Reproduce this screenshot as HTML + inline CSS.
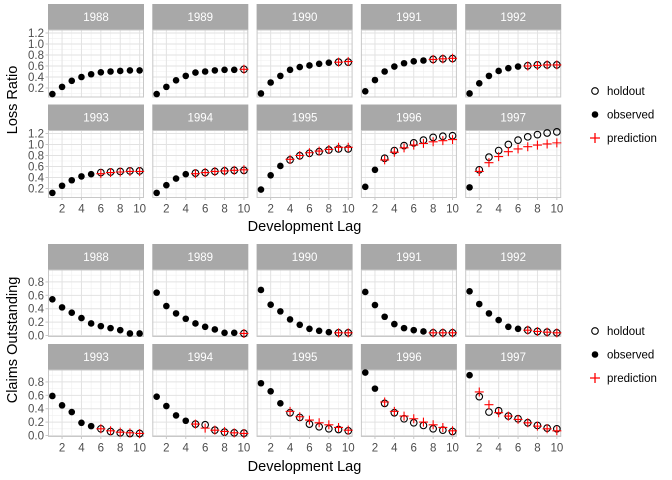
<!DOCTYPE html>
<html><head><meta charset="utf-8"><style>
body{margin:0;background:#fff;}
svg{display:block;font-family:"Liberation Sans",Arial,sans-serif;}
</style></head><body>
<svg id="chart" width="672" height="480" viewBox="0 0 672 480" xmlns="http://www.w3.org/2000/svg"></svg>
<script>
const years = [1988,1989,1990,1991,1992,1993,1994,1995,1996,1997];
const lags = [1,2,3,4,5,6,7,8,9,10];
// number of observed lags per year (rest are holdout)
const nObserved = [10,9,8,7,6,5,4,3,2,1];
// Loss ratio actuals (observed + holdout)
const lossActual = [
 [.09,.22,.33,.40,.45,.485,.50,.51,.52,.52],
 [.09,.22,.34,.42,.48,.50,.52,.53,.53,.54],
 [.10,.30,.42,.53,.58,.61,.64,.66,.67,.67],
 [.14,.345,.50,.59,.65,.685,.70,.72,.73,.735],
 [.10,.285,.42,.51,.56,.59,.605,.62,.62,.62],
 [.12,.25,.35,.42,.46,.49,.50,.51,.52,.52],
 [.12,.26,.38,.46,.48,.49,.51,.52,.53,.53],
 [.18,.44,.61,.72,.795,.84,.87,.90,.92,.92],
 [.23,.54,.75,.89,.98,1.03,1.08,1.13,1.15,1.16],
 [.22,.54,.77,.89,1.0,1.08,1.14,1.18,1.21,1.23]
];
const lossPred = [
 [],
 [.54],
 [.67,.68],
 [.72,.73,.74],
 [.60,.61,.62,.62],
 [.47,.49,.50,.51,.51],
 [.47,.49,.51,.52,.53,.54],
 [.73,.80,.85,.88,.91,.95,.95],
 [.72,.86,.94,.99,1.02,1.05,1.07,1.09],
 [.51,.67,.78,.87,.92,.96,.99,1.01,1.03]
];
const claimsActual = [
 [.54,.42,.34,.26,.18,.14,.11,.08,.03,.03],
 [.64,.44,.33,.25,.18,.13,.09,.04,.04,.03],
 [.68,.46,.36,.24,.16,.10,.07,.05,.04,.04],
 [.65,.455,.28,.17,.11,.08,.06,.04,.04,.04],
 [.66,.47,.33,.23,.13,.10,.08,.06,.05,.04],
 [.59,.45,.35,.19,.14,.10,.06,.04,.03,.03],
 [.58,.44,.30,.22,.17,.16,.08,.05,.04,.035],
 [.78,.66,.48,.34,.27,.17,.13,.10,.09,.07],
 [.94,.70,.48,.34,.25,.19,.15,.10,.08,.06],
 [.90,.58,.35,.37,.29,.25,.19,.15,.11,.10]
];
const claimsPred = [
 [],
 [.03],
 [.04,.04],
 [.04,.04,.04],
 [.08,.06,.05,.04],
 [.10,.07,.05,.04,.03],
 [.17,.11,.08,.06,.04,.03],
 [.36,.28,.23,.19,.16,.12,.08],
 [.50,.36,.29,.25,.20,.16,.12,.07],
 [.65,.46,.34,.29,.24,.19,.14,.10,.07]
];
const xTicks = [2,4,6,8,10];
const lossTicks = [0.2,0.4,0.6,0.8,1.0,1.2];
const claimsTicks = [0.0,0.2,0.4,0.6,0.8];
const legendLabels = ["holdout","observed","prediction"];

const NS="http://www.w3.org/2000/svg";
const svg=document.getElementById('chart');
function mk(tag,attrs,parent){const e=document.createElementNS(NS,tag);for(const k in attrs)e.setAttribute(k,attrs[k]);(parent||svg).appendChild(e);return e;}

const colX=[48,152.3,256.6,360.9,465.2], panelW=96;
const xDom=[0.55,10.45];
function xs(v,x0){return x0+(v-xDom[0])/(xDom[1]-xDom[0])*panelW;}

function drawPlot(cfg){
  const g=mk('g',{});
  
  
  const ys=(v,y0)=>y0+cfg.ph-(v-cfg.yDom[0])/(cfg.yDom[1]-cfg.yDom[0])*cfg.ph;
  years.forEach((yr,i)=>{
    const r=Math.floor(i/5), c=i%5;
    const x0=colX[c], sy=cfg.stripY[r], py=sy+26;
    const pg=mk('g',{},g);
    
    
    const st=mk('rect',{x:x0,y:sy,width:panelW,height:26,fill:'#a8a8a8'},pg);
    
    
    const stt=mk('text',{x:x0+panelW/2,y:sy+17,'text-anchor':'middle','font-size':11.5,fill:'#fff'},pg);
    stt.textContent=yr;
    
    
    // grid minor
    const yt=cfg.ticks;
    for(let k=0;k<yt.length+1;k++){
      const step=yt[1]-yt[0];const mv=yt[0]-step/2+k*step;
      if(mv>cfg.yDom[0]&&mv<cfg.yDom[1]) mk('line',{x1:x0,x2:x0+panelW,y1:ys(mv,py),y2:ys(mv,py),stroke:'#efefef','stroke-width':0.6},pg);
    }
    [1,3,5,7,9].forEach(m=>mk('line',{x1:xs(m,x0),x2:xs(m,x0),y1:py,y2:py+cfg.ph,stroke:'#efefef','stroke-width':0.6},pg));
    yt.forEach(t=>mk('line',{x1:x0,x2:x0+panelW,y1:ys(t,py),y2:ys(t,py),stroke:'#e2e2e2','stroke-width':1},pg));
    xTicks.forEach(t=>mk('line',{x1:xs(t,x0),x2:xs(t,x0),y1:py,y2:py+cfg.ph,stroke:'#e2e2e2','stroke-width':1},pg));
    mk('rect',{x:x0+0.5,y:py,width:panelW-1,height:cfg.ph,fill:'none',stroke:'#c8c8c8','stroke-width':1},pg);
    if(c===0){
      yt.forEach(t=>{
        const tx=mk('text',{x:x0-4,y:ys(t,py)+4,'text-anchor':'end','font-size':11.5,fill:'#4d4d4d'},pg);
        tx.textContent=t.toFixed(1);
        
        
        mk('line',{x1:x0-2.5,x2:x0,y1:ys(t,py),y2:ys(t,py),stroke:'#c8c8c8'},pg);
      });
    }
    if(r===1){
      xTicks.forEach(t=>{
        mk('line',{x1:xs(t,x0),x2:xs(t,x0),y1:py+cfg.ph,y2:py+cfg.ph+2.5,stroke:'#c8c8c8'},pg);
        const tx=mk('text',{x:xs(t,x0),y:py+cfg.ph+15,'text-anchor':'middle','font-size':11.5,fill:'#4d4d4d'},pg);
        tx.textContent=t;
        
        
      });
    }
    const act=cfg.actual[i], pred=cfg.pred[i], nObs=nObserved[i];
    lags.forEach((L,j)=>{
      const cx=xs(L,x0), cy=ys(act[j],py);
      const p=mk('circle',{cx:cx,cy:cy,r:3.3,fill:j<nObs?'#000':'none',stroke:'#000','stroke-width':j<nObs?0:1.1},pg);
      
      
    });
    pred.forEach((v,k)=>{
      const L=lags[nObs+k], cx=xs(L,x0), cy=ys(v,py);
      const p=mk('path',{d:`M${cx-4.5},${cy}H${cx+4.5}M${cx},${cy-4.5}V${cy+4.5}`,stroke:'#ff0000','stroke-width':1.1,fill:'none'},pg);
      
      
    });
  });
  const yt=mk('text',{x:0,y:0,transform:`translate(${cfg.titleX},${cfg.titleY}) rotate(-90)`,'text-anchor':'middle','font-size':14.5,fill:'#000'},g);
  yt.textContent=cfg.yTitle;
  
  
  const xt=mk('text',{x:304.5,y:cfg.xTitleY,'text-anchor':'middle','font-size':14.5,fill:'#000'},g);
  xt.textContent='Development Lag';
  
  
  // legend
  const lg=mk('g',{},g);
  
  
  legendLabels.forEach((lab,k)=>{
    const y=cfg.legY+k*23.5, x=595;
    if(k===0) mk('circle',{cx:x,cy:y,r:3.3,fill:'none',stroke:'#000','stroke-width':1.1},lg);
    if(k===1) mk('circle',{cx:x,cy:y,r:3.3,fill:'#000'},lg);
    if(k===2) mk('path',{d:`M${x-5},${y}H${x+5}M${x},${y-5}V${y+5}`,stroke:'#ff0000','stroke-width':1.3},lg);
    const t=mk('text',{x:607,y:y+4,'font-size':11.5,fill:'#000'},lg);
    t.textContent=lab;
    
    
  });
}
drawPlot({name:'loss-ratio-plot',stripY:[4,104.5],ph:67,yDom:[0.036,1.255],ticks:lossTicks,actual:lossActual,pred:lossPred,yTitle:'Loss Ratio',titleX:17,titleY:100,xTitleY:231,legY:91});
drawPlot({name:'claims-outstanding-plot',stripY:[244,344],ph:66.5,yDom:[-0.015,0.978],ticks:claimsTicks,actual:claimsActual,pred:claimsPred,yTitle:'Claims Outstanding',titleX:17,titleY:340,xTitleY:471,legY:331});
</script>
</body></html>
